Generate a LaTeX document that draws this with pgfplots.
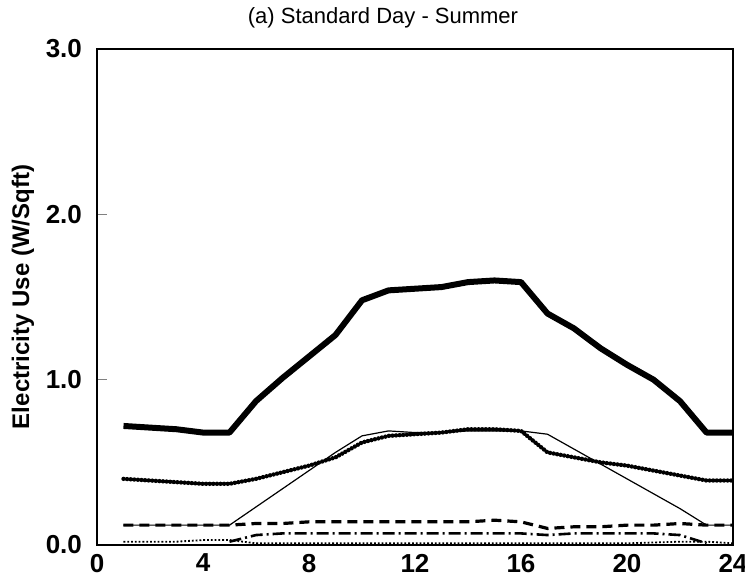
\documentclass[border=0pt]{standalone}
\usepackage{pgfplots}
\pgfplotsset{compat=1.18}
\usepackage{fontspec}
\setmainfont{Liberation Sans}

\begin{document}
\begin{tikzpicture}
\path[use as bounding box] (-48.5pt,-18pt) rectangle (324pt,272.5pt);
\begin{axis}[
    at={(0,0)}, anchor=south west,
    scale only axis,
    width=318pt, height=248pt,
    xmin=0, xmax=24, ymin=0, ymax=3,
    xtick={0,4,...,24},
    ytick={0,1,2,3},
    yticklabels={0.0,1.0,2.0,3.0},
    x tick style={draw=none},
    tick align=inside,
    ytick pos=left,
    major tick length=5pt,
    tick label style={font=\bfseries\fontsize{13}{14}\selectfont},
    /pgf/number format/assume math mode=true,
    xticklabel style={yshift=-1pt},
    yticklabel style={xshift=-4pt},
    ylabel={\bfseries Electricity Use (W/Sqft)},
    ylabel style={font=\fontsize{12}{13}\selectfont, yshift=-1pt},
    title={(a) Standard Day - Summer},
    title style={font=\fontsize{11}{12}\selectfont, yshift=1pt, xshift=-16pt},
    axis line style={line width=0.8pt},
    clip=false,
]
% total
\addplot[black, line width=3pt, line join=round] coordinates {
(1,0.72) (2,0.71) (3,0.70) (4,0.68) (5,0.68) (6,0.87) (7,1.01) (8,1.14)
(9,1.27) (10,1.48) (11,1.54) (12,1.55) (13,1.56) (14,1.59) (15,1.60) (16,1.59)
(17,1.40) (18,1.31) (19,1.19) (20,1.09) (21,1.00) (22,0.87) (23,0.68) (24,0.68)
};
% beaded line
\addplot[black, line width=2.2pt, line cap=round, dash pattern=on 0pt off 1.8pt] coordinates {
(1,0.40) (2,0.39) (3,0.38) (4,0.37) (5,0.37) (6,0.40) (7,0.44) (8,0.48)
(9,0.53) (10,0.62) (11,0.66) (12,0.67) (13,0.68) (14,0.70) (15,0.70) (16,0.69)
(17,0.56) (18,0.53) (19,0.50) (20,0.48) (21,0.45) (22,0.42) (23,0.39) (24,0.39)
};
% thin solid
\addplot[black, line width=0.6pt] coordinates {
(1,0.12) (2,0.12) (3,0.12) (4,0.12) (5,0.12) (6,0.23) (7,0.34) (8,0.45)
(9,0.56) (10,0.66) (11,0.69) (12,0.68) (13,0.68) (14,0.69) (15,0.69) (16,0.69)
(17,0.67) (18,0.58) (19,0.49) (20,0.40) (21,0.31) (22,0.22) (23,0.12) (24,0.12)
};
% thick dashed
\addplot[black, line width=1.6pt, dash pattern=on 5pt off 3pt] coordinates {
(1,0.12) (2,0.12) (3,0.12) (4,0.12) (5,0.12) (6,0.13) (7,0.13) (8,0.14)
(9,0.14) (10,0.14) (11,0.14) (12,0.14) (13,0.14) (14,0.14) (15,0.15) (16,0.14)
(17,0.10) (18,0.11) (19,0.11) (20,0.12) (21,0.12) (22,0.13) (23,0.12) (24,0.12)
};
% dash-dot
\addplot[black, line width=1.3pt, dash pattern=on 6pt off 2pt on 1pt off 2pt] coordinates {
(5,0.02) (6,0.06) (7,0.07) (8,0.07) (9,0.07) (10,0.07) (11,0.07) (12,0.07)
(13,0.07) (14,0.07) (15,0.07) (16,0.07) (17,0.06) (18,0.07) (19,0.07) (20,0.07)
(21,0.07) (22,0.06) (23,0.01)
};
% fine dotted near zero
\addplot[black, line width=0.9pt, densely dotted] coordinates {
(1,0.02) (2,0.02) (3,0.02) (4,0.03) (5,0.03) (6,0.01) (8,0.01) (10,0.01)
(12,0.01) (14,0.01) (16,0.01) (18,0.01) (20,0.01) (22,0.02) (23,0.02) (24,0.01)
};
\end{axis}
\end{tikzpicture}
\end{document}
